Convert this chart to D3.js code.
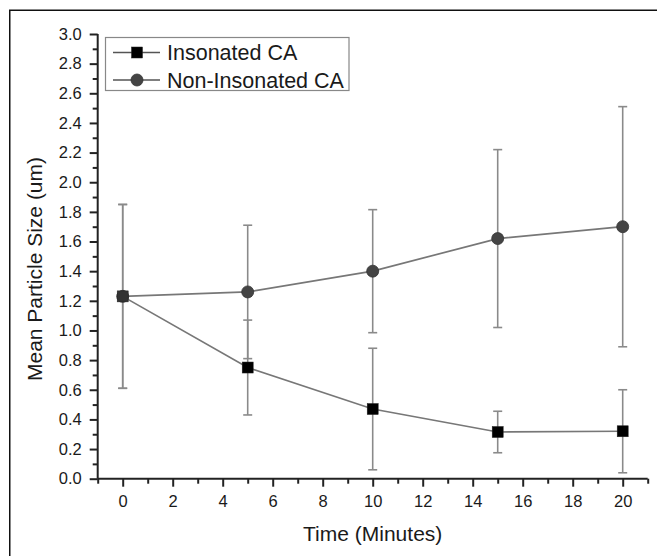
<!DOCTYPE html>
<html>
<head>
<meta charset="utf-8">
<script src="https://cdn.jsdelivr.net/npm/d3@7"></script>
<style>
  body { margin: 0; background: #fff; }
  svg { display: block; }
  text { font-family: "Liberation Sans", Arial, sans-serif; fill: #1a1a1a; }
</style>
</head>
<body>
<script>
// ---- data ----
const times = [0, 5, 10, 15, 20];
const insonated = [1.23, 0.75, 0.47, 0.315, 0.32];
const insonatedErr = [0.62, 0.32, 0.41, 0.14, 0.28];
const nonInsonated = [1.23, 1.26, 1.40, 1.62, 1.70];
const nonInsonatedErr = [0.62, 0.45, 0.415, 0.60, 0.81];
const xTicks = [0, 2, 4, 6, 8, 10, 12, 14, 16, 18, 20];
const yTicks = [0.0, 0.2, 0.4, 0.6, 0.8, 1.0, 1.2, 1.4, 1.6, 1.8, 2.0, 2.2, 2.4, 2.6, 2.8, 3.0];
const seriesNames = ["Insonated CA", "Non-Insonated CA"];

const W = 657, H = 556;
const svg = d3.select("body").append("svg").attr("width", W).attr("height", H);

// outer frame (cropped)
svg.append("rect").attr("x", 9.75).attr("y", 10.25).attr("width", W + 10).attr("height", H + 10)
  .attr("fill", "none").attr("stroke", "#111").attr("stroke-width", 1.5);

const x = d3.scaleLinear().domain([-1, 21]).range([97.7, 647.7]);
const y = d3.scaleLinear().domain([0, 3]).range([478.7, 34]);

// axes
const xAxis = d3.axisBottom(x).tickValues(xTicks).tickSize(8).tickPadding(9).tickFormat(d3.format("d"));
const xMinor = d3.axisBottom(x).tickValues(d3.range(-1, 22, 2)).tickSize(5).tickFormat("");
const yAxis = d3.axisLeft(y).tickValues(yTicks).tickSize(8).tickPadding(8).tickFormat(d3.format(".1f"));
const yMinor = d3.axisLeft(y).tickValues(d3.range(0.1, 3.0, 0.2)).tickSize(5).tickFormat("");

function styleAxis(g) {
  g.selectAll("path, line").attr("stroke", "#222").attr("stroke-width", 2);
  g.selectAll("text").attr("font-size", 16.5).style("font-family", "'Liberation Sans', Arial, sans-serif").attr("fill", "#222");
}
const gx = svg.append("g").attr("transform", `translate(0,${y(0)})`).call(xAxis);
gx.select(".domain").attr("d", `M${x(-1)},0H${x(21)}`);
styleAxis(gx);
const gxm = svg.append("g").attr("transform", `translate(0,${y(0)})`).call(xMinor);
gxm.select(".domain").remove();
styleAxis(gxm);

const gy = svg.append("g").attr("transform", `translate(${x(-1)},0)`).call(yAxis);
gy.select(".domain").attr("d", `M0,${y(0)}V${y(3)}`);
styleAxis(gy);
const gym = svg.append("g").attr("transform", `translate(${x(-1)},0)`).call(yMinor);
gym.select(".domain").remove();
styleAxis(gym);

// axis titles
svg.append("text").attr("x", x(10)).attr("y", 541).attr("text-anchor", "middle")
  .attr("font-size", 21).text("Time (Minutes)");
svg.append("text").attr("transform", `translate(42,${269}) rotate(-90)`).attr("text-anchor", "middle")
  .attr("font-size", 21).text("Mean Particle Size (um)");

const lineColor = "#777";
const errColor = "#8a8a8a";
const line = d3.line().x((d, i) => x(times[i])).y(d => y(d));

const series = [
  { vals: insonated, err: insonatedErr, shape: "square", fill: "#000" },
  { vals: nonInsonated, err: nonInsonatedErr, shape: "circle", fill: "#444" }
];

// error bars
series.forEach(s => {
  const g = svg.append("g").attr("stroke", errColor).attr("stroke-width", 1.6);
  s.vals.forEach((v, i) => {
    const cx = x(times[i]);
    g.append("line").attr("x1", cx).attr("x2", cx).attr("y1", y(v - s.err[i])).attr("y2", y(v + s.err[i]));
    [v - s.err[i], v + s.err[i]].forEach(e => {
      g.append("line").attr("x1", cx - 4.5).attr("x2", cx + 4.5).attr("y1", y(e)).attr("y2", y(e));
    });
  });
});

// lines
series.forEach(s => {
  svg.append("path").datum(s.vals).attr("d", line).attr("fill", "none")
    .attr("stroke", lineColor).attr("stroke-width", 1.7);
});

function drawMarker(g, shape, cx, cy, fill) {
  if (shape === "square") {
    g.append("rect").attr("x", cx - 5.5).attr("y", cy - 5.5).attr("width", 11).attr("height", 11)
      .attr("fill", fill).attr("stroke", "#222").attr("stroke-width", 0.5);
  } else {
    g.append("circle").attr("cx", cx).attr("cy", cy).attr("r", 6)
      .attr("fill", fill).attr("stroke", "#333").attr("stroke-width", 0.8);
  }
}

// markers: circles first, squares on top
[series[1], series[0]].forEach(s => {
  const g = svg.append("g");
  s.vals.forEach((v, i) => {
    const f = (s.shape === "square" && i === 0) ? "#333" : s.fill;
    drawMarker(g, s.shape, x(times[i]), y(v), f);
  });
});

// legend
const lg = svg.append("g");
lg.append("rect").attr("x", 105.5).attr("y", 37.5).attr("width", 243.5).attr("height", 53)
  .attr("fill", "#fff").attr("stroke", "#888").attr("stroke-width", 1.2);
seriesNames.forEach((name, i) => {
  const ly = 52.5 + i * 27.5;
  lg.append("line").attr("x1", 113).attr("x2", 160).attr("y1", ly).attr("y2", ly)
    .attr("stroke", "#555").attr("stroke-width", 1.4);
  drawMarker(lg, series[i].shape, 137, ly, series[i].fill);
  lg.append("text").attr("x", 167).attr("y", ly + 7.5).attr("font-size", 21.5).text(name);
});
</script>
</body>
</html>
